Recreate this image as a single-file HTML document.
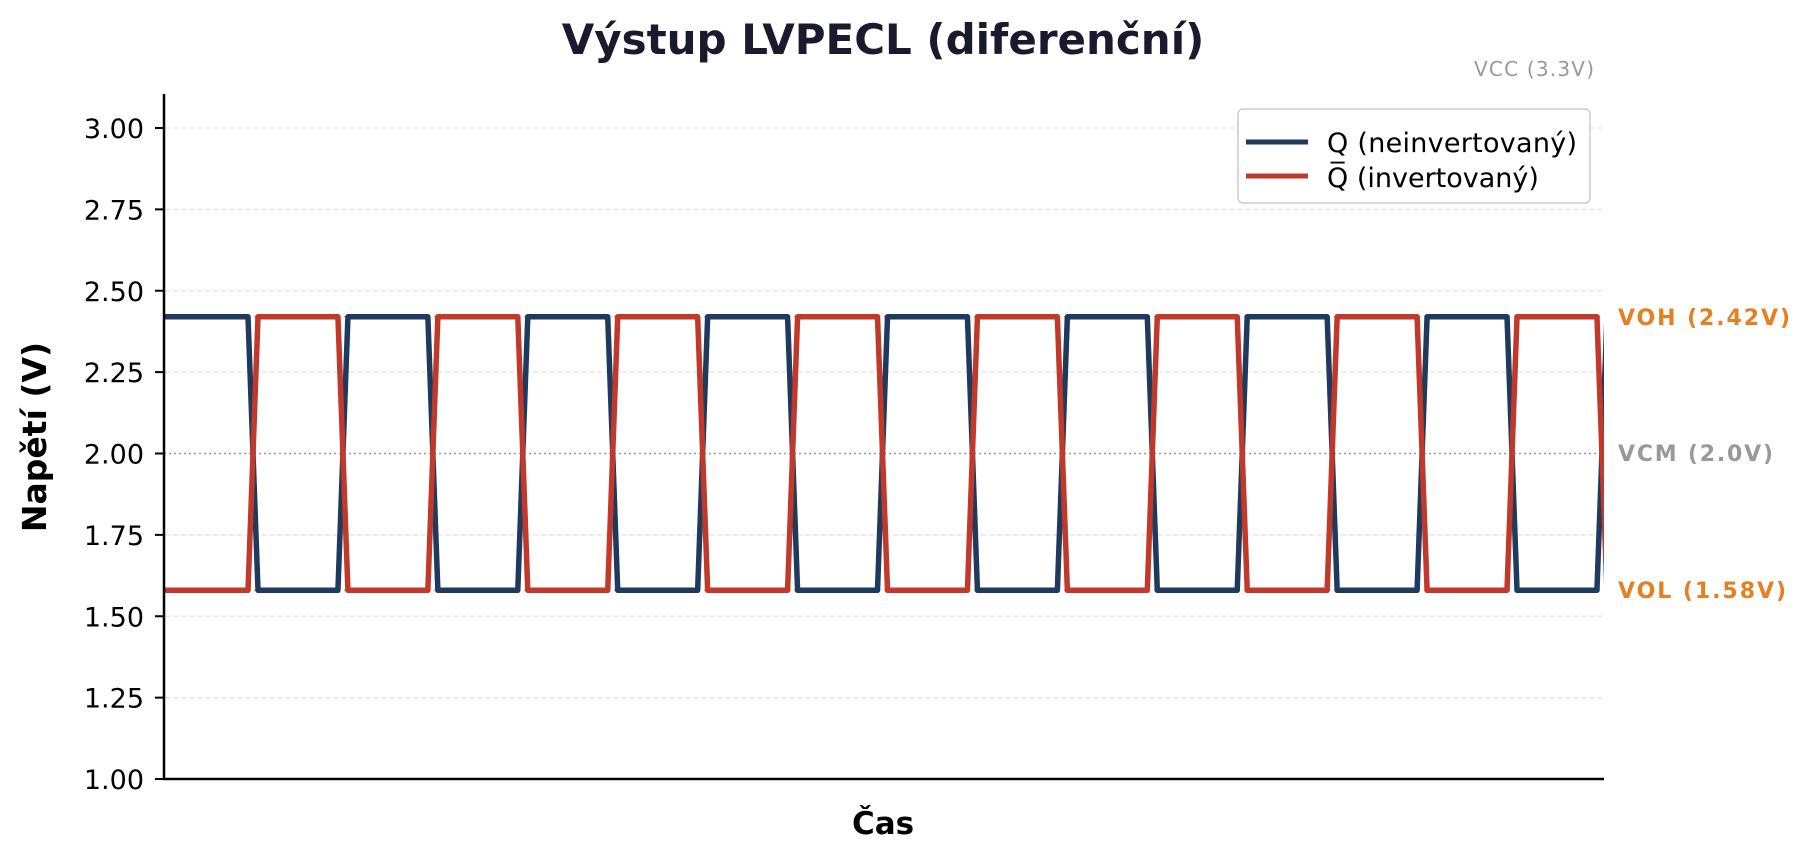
<!DOCTYPE html>
<html><head><meta charset="utf-8">
<style>html,body{margin:0;padding:0;background:#fff;}svg{display:block;}text{font-family:"DejaVu Sans","Liberation Sans",sans-serif;}</style>
</head><body>
<svg id="s" width="1811" height="860" viewBox="0 0 1811 860" xmlns="http://www.w3.org/2000/svg">
<defs><clipPath id="c"><rect x="164" y="90" width="1440" height="690"/></clipPath></defs>
<g id="grid" stroke="#e2e2e2" stroke-width="1.2" stroke-dasharray="5,3"></g>
<line x1="164" y1="316.8" x2="1604" y2="316.8" stroke="#e67e22" stroke-width="1.5" stroke-dasharray="6,4" opacity="0.7"/>
<line x1="164" y1="590.2" x2="1604" y2="590.2" stroke="#e67e22" stroke-width="1.5" stroke-dasharray="6,4" opacity="0.7"/>
<line x1="164" y1="453.5" x2="1604" y2="453.5" stroke="#999" stroke-width="1.6" stroke-dasharray="2,3"/>
<g clip-path="url(#c)">
<path id="pq" fill="none" stroke="#1f3a5f" stroke-width="5.5" stroke-linejoin="round"/>
<path id="pr" fill="none" stroke="#c0392b" stroke-width="5.5" stroke-linejoin="round"/>
</g>
<line x1="164" y1="94" x2="164" y2="780" stroke="#000" stroke-width="2.5"/>
<line x1="163" y1="779" x2="1604" y2="779" stroke="#000" stroke-width="2.5"/>
<g id="ticks"></g>
<text x="883" y="54" text-anchor="middle" font-size="42" font-weight="bold" fill="#1a1a2e">Výstup LVPECL (diferenční)</text>
<text x="1594" y="76" text-anchor="end" font-size="20" fill="#999" textLength="120">VCC (3.3V)</text>
<text x="1618" y="325" font-size="22" font-weight="bold" fill="#e67e22" textLength="172">VOH (2.42V)</text>
<text x="1618" y="461" font-size="22" font-weight="bold" fill="#999" textLength="155">VCM (2.0V)</text>
<text x="1618" y="598" font-size="22" font-weight="bold" fill="#e67e22" textLength="168">VOL (1.58V)</text>
<text x="883" y="834" text-anchor="middle" font-size="31" font-weight="bold" fill="#000">Čas</text>
<text transform="translate(46,437) rotate(-90)" text-anchor="middle" font-size="33" font-weight="bold" fill="#000">Napětí (V)</text>
<rect x="1238" y="109" width="352" height="94" rx="5" fill="#fff" fill-opacity="0.9" stroke="#ccc" stroke-width="1.5"/>
<line x1="1246" y1="142" x2="1308" y2="142" stroke="#1f3a5f" stroke-width="5"/>
<line x1="1246" y1="176" x2="1308" y2="176" stroke="#c0392b" stroke-width="5"/>
<text x="1327" y="152" font-size="27" fill="#000" textLength="250">Q (neinvertovaný)</text>
<text x="1327" y="187" font-size="27" fill="#000">Q̅ (invertovaný)</text>
</svg>
<script>
var ns="http://www.w3.org/2000/svg";
function Y(v){return 453.5-(v-2)*325.5;}
var g=document.getElementById("grid"),t=document.getElementById("ticks");
for(var i=0;i<=8;i++){var v=1+i*0.25,y=Y(v);
 if(Math.abs(v-2)>0.01){var l=document.createElementNS(ns,"line");l.setAttribute("x1",165);l.setAttribute("x2",1604);l.setAttribute("y1",y);l.setAttribute("y2",y);g.appendChild(l);}
 var tk=document.createElementNS(ns,"line");tk.setAttribute("x1",155);tk.setAttribute("x2",164);tk.setAttribute("y1",y);tk.setAttribute("y2",y);tk.setAttribute("stroke","#000");tk.setAttribute("stroke-width","2");t.appendChild(tk);
 var tx=document.createElementNS(ns,"text");tx.setAttribute("x",144);tx.setAttribute("y",y+10);tx.setAttribute("text-anchor","end");tx.setAttribute("font-size","27");tx.textContent=v.toFixed(2);t.appendChild(tx);}
var hi=Y(2.42),lo=Y(1.58),w=5;
function build(startHigh){var lvl=startHigh,d="M160 "+(lvl?hi:lo);
 for(var k=0;k<16;k++){var c=253+89.93*k;d+=" L"+(c-w)+" "+(lvl?hi:lo);lvl=!lvl;d+=" L"+(c+w)+" "+(lvl?hi:lo);}
 d+=" L1620 "+(lvl?hi:lo);return d;}
document.getElementById("pq").setAttribute("d",build(true));
document.getElementById("pr").setAttribute("d",build(false));
</script>
</body></html>
